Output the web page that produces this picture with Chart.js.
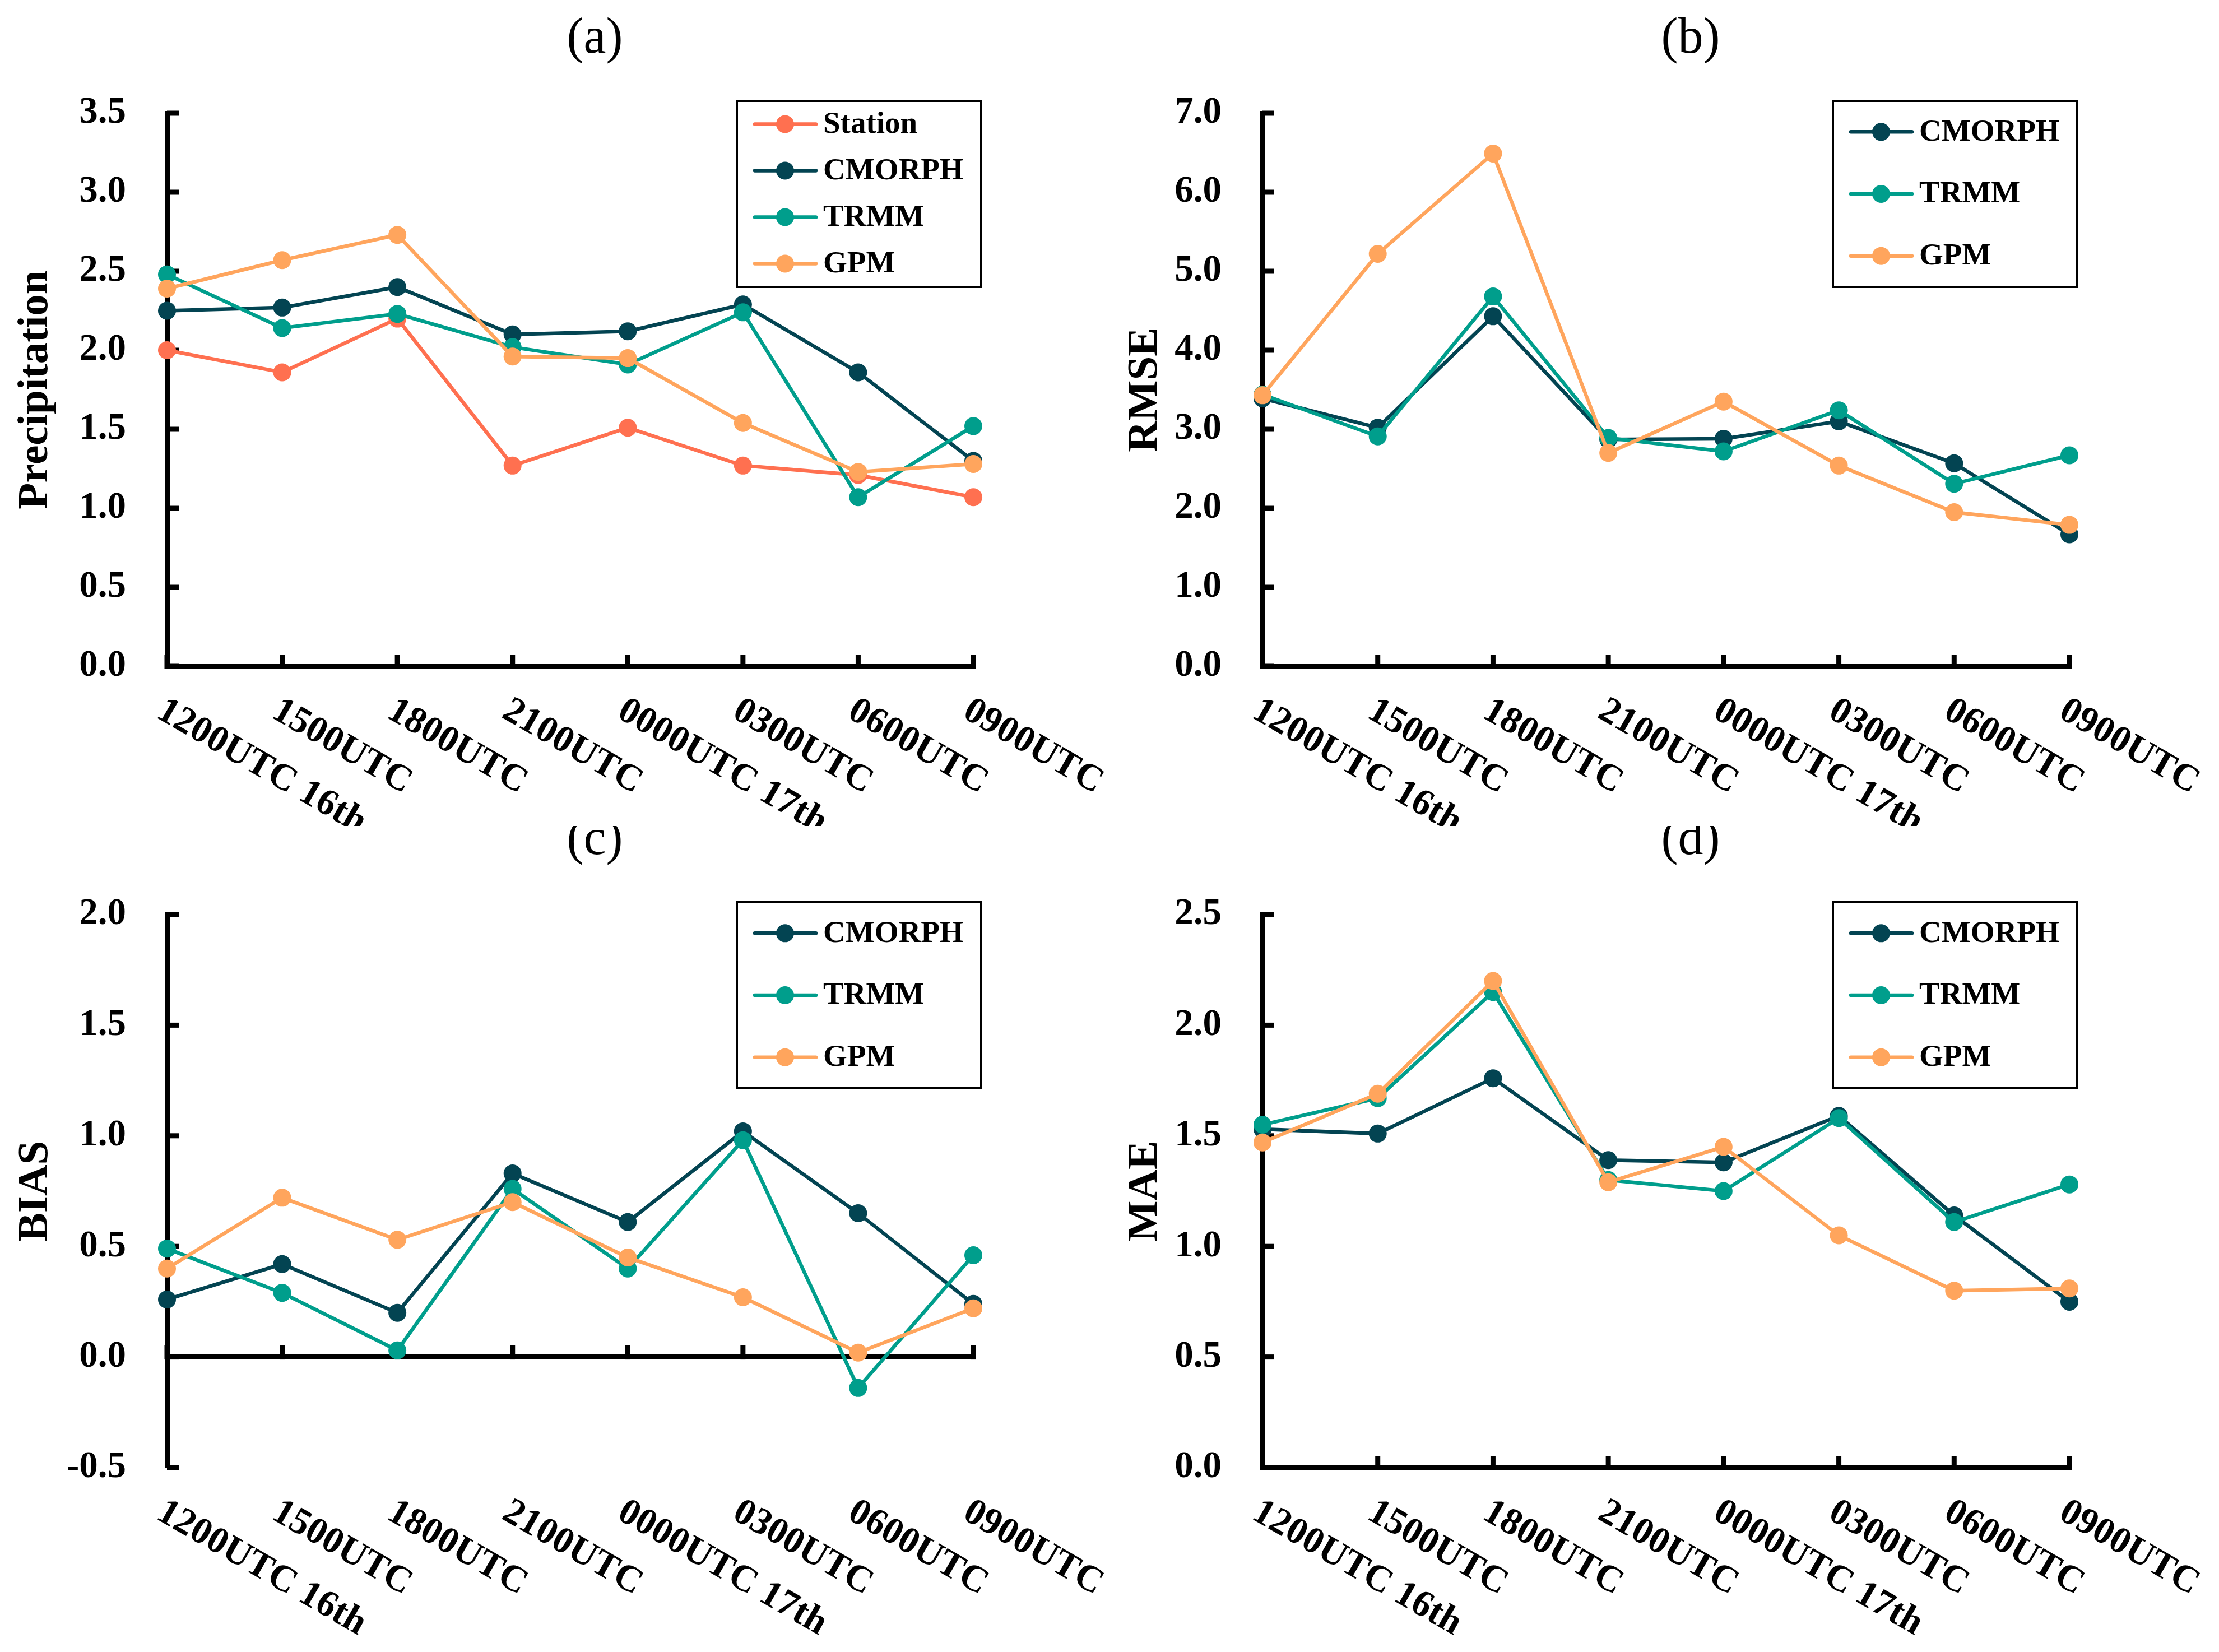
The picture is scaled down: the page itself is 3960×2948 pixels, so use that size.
<!DOCTYPE html>
<html>
<head>
<meta charset="utf-8">
<script src="https://cdn.jsdelivr.net/npm/chart.js@4.4.1/dist/chart.umd.min.js"></script>
<style>
  html, body { margin: 0; padding: 0; background: #ffffff; }
  #wrap { position: relative; width: 3960px; height: 2948px; background: #ffffff; }
  .panel { position: absolute; width: 1980px; height: 1474px; }
  canvas { display: block; }
</style>
</head>
<body>
<div id="wrap">
  <div class="panel" style="left:0;top:0"><canvas id="ca" width="1980" height="1474"></canvas></div>
  <div class="panel" style="left:1980px;top:0"><canvas id="cb" width="1980" height="1474"></canvas></div>
  <div class="panel" style="left:0;top:1474px"><canvas id="cc" width="1980" height="1474"></canvas></div>
  <div class="panel" style="left:1980px;top:1474px"><canvas id="cd" width="1980" height="1474"></canvas></div>
</div>
<script>
// ---------------- DATA ----------------
const categories = ['1200UTC 16th', '1500UTC', '1800UTC', '2100UTC', '0000UTC 17th', '0300UTC', '0600UTC', '0900UTC'];

const precipStation = [2.00, 1.86, 2.20, 1.27, 1.51, 1.27, 1.21, 1.07];
const precipCMORPH  = [2.25, 2.27, 2.40, 2.10, 2.12, 2.29, 1.86, 1.30];
const precipTRMM    = [2.48, 2.14, 2.23, 2.02, 1.91, 2.24, 1.07, 1.52];
const precipGPM     = [2.39, 2.57, 2.73, 1.96, 1.95, 1.54, 1.23, 1.28];

const rmseCMORPH = [3.39, 3.02, 4.43, 2.87, 2.88, 3.10, 2.57, 1.67];
const rmseTRMM   = [3.44, 2.91, 4.68, 2.89, 2.72, 3.24, 2.31, 2.67];
const rmseGPM    = [3.43, 5.22, 6.49, 2.70, 3.35, 2.54, 1.95, 1.79];

const biasCMORPH = [0.26, 0.42, 0.20, 0.83, 0.61, 1.02, 0.65, 0.24];
const biasTRMM   = [0.49, 0.29, 0.03, 0.76, 0.40, 0.98, -0.14, 0.46];
const biasGPM    = [0.40, 0.72, 0.53, 0.70, 0.45, 0.27, 0.02, 0.22];

const maeCMORPH = [1.53, 1.51, 1.76, 1.39, 1.38, 1.59, 1.14, 0.75];
const maeTRMM   = [1.55, 1.67, 2.15, 1.30, 1.25, 1.58, 1.11, 1.28];
const maeGPM    = [1.47, 1.69, 2.20, 1.29, 1.45, 1.05, 0.80, 0.81];

const ticksPrecip = [0, 0.5, 1.0, 1.5, 2.0, 2.5, 3.0, 3.5];
const ticksRMSE   = [0, 1, 2, 3, 4, 5, 6, 7];
const ticksBIAS   = [-0.5, 0, 0.5, 1.0, 1.5, 2.0];
const ticksMAE    = [0, 0.5, 1.0, 1.5, 2.0, 2.5];

// ---------------- STYLE ----------------
const COLORS = { Station: '#FF7050', CMORPH: '#034452', TRMM: '#009E8C', GPM: '#FFA55D' };
const ORDER  = { Station: 3, CMORPH: 2, TRMM: 1, GPM: 0 };
const FONT = '"Liberation Serif", "Times New Roman", serif';
Chart.defaults.font.family = FONT;
Chart.defaults.color = '#000';

function ds(name, values) {
  return {
    label: name, data: values, order: ORDER[name],
    borderColor: COLORS[name], backgroundColor: COLORS[name],
    pointBackgroundColor: COLORS[name], pointBorderWidth: 0,
    pointRadius: 16, pointHoverRadius: 16, borderWidth: 6.5,
    tension: 0, clip: false
  };
}

const decor = {
  id: 'decor',
  beforeDatasetsDraw(chart, args, opts) {
    const { ctx, chartArea, scales: { x, y } } = chart;
    const zeroY = y.getPixelForValue(0);
    ctx.save();
    ctx.strokeStyle = '#000';
    ctx.lineWidth = 9;
    ctx.lineCap = 'butt';
    y.ticks.forEach((t, i) => {
      const py = y.getPixelForTick(i);
      ctx.beginPath(); ctx.moveTo(chartArea.left, py); ctx.lineTo(chartArea.left + 21, py); ctx.stroke();
    });
    x.ticks.forEach((t, i) => {
      const px = x.getPixelForTick(i);
      ctx.beginPath(); ctx.moveTo(px, zeroY + 4.5); ctx.lineTo(px, zeroY - 21); ctx.stroke();
    });
    ctx.restore();
  },
  afterDraw(chart, args, opts) {
    const { ctx, chartArea, scales: { x } } = chart;
    ctx.save();
    // rotated category labels
    ctx.fillStyle = '#000';
    ctx.font = 'bold 67px ' + FONT;
    ctx.textAlign = 'left';
    ctx.textBaseline = 'top';
    x.ticks.forEach((t, i) => {
      const px = x.getPixelForTick(i);
      ctx.save();
      ctx.translate(px + 4, chartArea.bottom + 46);
      ctx.rotate(Math.PI / 6);
      ctx.fillText(chart.data.labels[i], 0, 0);
      ctx.restore();
    });
    // panel title
    ctx.font = '90px ' + FONT;
    ctx.textAlign = 'center';
    ctx.textBaseline = 'middle';
    ctx.fillText(opts.title, (chartArea.left + chartArea.right) / 2 + 44, chartArea.top - 132);
    // legend
    const sets = chart.data.datasets;
    const n = sets.length;
    const boxW = 436, boxH = 332;
    const bx = chartArea.right + 14 - boxW, by = chartArea.top - 22;
    ctx.fillStyle = '#fff';
    ctx.fillRect(bx, by, boxW, boxH);
    ctx.strokeStyle = '#000';
    ctx.lineWidth = 4;
    ctx.strokeRect(bx, by, boxW, boxH);
    ctx.font = 'bold 55px ' + FONT;
    ctx.textAlign = 'left';
    ctx.textBaseline = 'middle';
    sets.forEach((d, i) => {
      const cy = by + (i + 0.5) * boxH / n;
      ctx.strokeStyle = d.borderColor;
      ctx.lineWidth = 6.5;
      ctx.lineCap = 'round';
      ctx.beginPath(); ctx.moveTo(bx + 32, cy); ctx.lineTo(bx + 141, cy); ctx.stroke();
      ctx.fillStyle = d.borderColor;
      ctx.beginPath(); ctx.arc(bx + 86, cy, 16, 0, Math.PI * 2); ctx.fill();
      ctx.fillStyle = '#000';
      ctx.fillText(d.label, bx + 154, cy + 1);
    });
    ctx.restore();
  }
};

function makeChart(id, g, datasets, tickValues, yTitle, panelTitle) {
  const canvas = document.getElementById(id);
  return new Chart(canvas, {
    type: 'line',
    data: { labels: categories, datasets },
    plugins: [decor],
    options: {
      responsive: false,
      animation: false,
      devicePixelRatio: 1,
      events: [],
      layout: { padding: { left: 0, top: g.top, right: 1980 - g.right, bottom: 0 } },
      plugins: {
        legend: { display: false },
        tooltip: { enabled: false },
        title: { display: false },
        decor: { title: panelTitle }
      },
      scales: {
        x: {
          type: 'category',
          offset: false,
          grid: { display: false },
          border: { display: false },
          ticks: { display: false },
          afterFit(scale) { scale.height = 1474 - g.bottom; }
        },
        y: {
          min: tickValues[0],
          max: tickValues[tickValues.length - 1],
          afterBuildTicks(scale) { scale.ticks = tickValues.map(v => ({ value: v })); },
          ticks: {
            padding: 73,
            color: '#000',
            font: { family: FONT, size: 67, weight: 'bold' },
            callback: (v) => Number(v).toFixed(1)
          },
          grid: {
            drawTicks: false,
            drawOnChartArea: true,
            color: (c) => (c.tick && c.tick.value === 0) ? '#000' : 'rgba(0,0,0,0)',
            lineWidth: (c) => (c.tick && c.tick.value === 0) ? 9 : 0
          },
          border: { display: true, color: '#000', width: 9 },
          title: {
            display: true, text: yTitle, color: '#000',
            font: { family: FONT, size: 77, weight: 'bold' },
            padding: { top: 18, bottom: 0 }
          },
          afterFit(scale) { scale.width = g.left; }
        }
      }
    }
  });
}

makeChart('ca', { left: 298, right: 1737, top: 202, bottom: 1189 },
  [ds('Station', precipStation), ds('CMORPH', precipCMORPH), ds('TRMM', precipTRMM), ds('GPM', precipGPM)],
  ticksPrecip, 'Precipitation', '(a)');
makeChart('cb', { left: 273, right: 1713, top: 202, bottom: 1189 },
  [ds('CMORPH', rmseCMORPH), ds('TRMM', rmseTRMM), ds('GPM', rmseGPM)],
  ticksRMSE, 'RMSE', '(b)');
makeChart('cc', { left: 298, right: 1737, top: 158, bottom: 1145 },
  [ds('CMORPH', biasCMORPH), ds('TRMM', biasTRMM), ds('GPM', biasGPM)],
  ticksBIAS, 'BIAS', '(c)');
makeChart('cd', { left: 273, right: 1713, top: 158, bottom: 1145 },
  [ds('CMORPH', maeCMORPH), ds('TRMM', maeTRMM), ds('GPM', maeGPM)],
  ticksMAE, 'MAE', '(d)');
</script>
</body>
</html>
